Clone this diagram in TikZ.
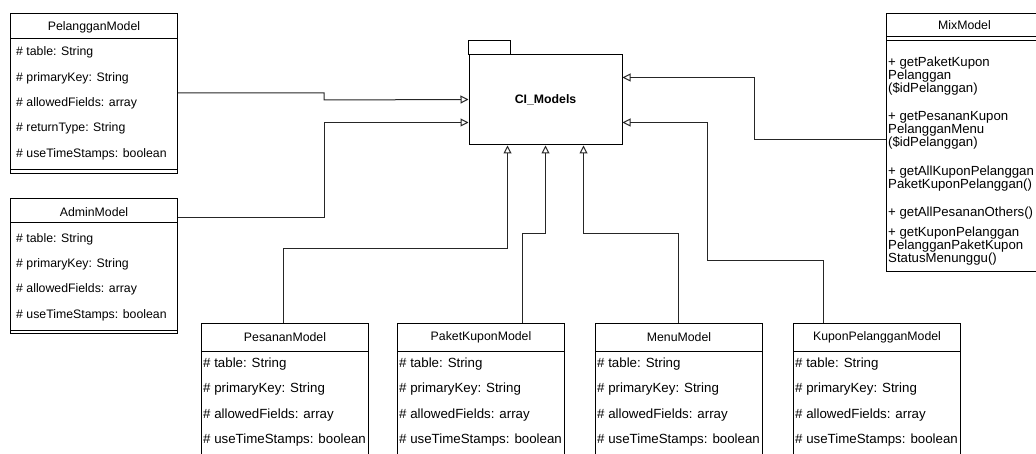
\documentclass[tikz,border=0pt]{standalone}
\usepackage{fontspec}
\setmainfont{Liberation Sans}
\usetikzlibrary{arrows.meta}

\tikzset{
	classbox/.style={draw,line width=1pt,inner sep=0pt,anchor=north west},
	title/.style={inner sep=0pt,font=\fontsize{12.3}{14}\selectfont},
	attr/.style={anchor=west,inner sep=0pt,font=\fontsize{12.3}{14}\selectfont},
	wideattr/.style={attr,font=\fontsize{13.3}{14}\selectfont},
	method/.style={anchor=west,inner sep=0pt,align=left,font=\fontsize{13.2}{13}\selectfont},
	inherit/.style={draw=black!85,line width=1pt,-{Triangle[open,length=8pt,width=8pt]}},
}

\begin{document}
\begin{tikzpicture}[x=1pt,y=-1pt]
			\useasboundingbox (0,0) rectangle (1036,454);
			
			% package
			\node[draw,line width=1pt,minimum width=153,minimum height=90,inner sep=0pt,font=\fontsize{12.3}{14}\selectfont\bfseries] (ci) at (545.5,100) {CI\_Models};
			\draw[line width=1pt] (ci.north west) rectangle ++(42,-14);
			
			% left classes
			\node[classbox,minimum width=167,minimum height=160] (pelanggan) at (10,13) {};
			\draw[line width=1pt] (pelanggan.north west) ++(0,26) -- ++(167,0);
			\draw[line width=1pt] (pelanggan.south west) ++(0,-4) -- ++(167,0);
			\node[title] (pelangganT) at ([yshift=-14pt]pelanggan.north) {PelangganModel};
			\foreach \t [count=\i from 0] in {table: String,primaryKey: String,allowedFields: array,returnType: String,useTimeStamps: boolean}{
				\node[attr] at ([xshift=6pt,yshift=-39.7pt-25.3pt*\i]pelanggan.north west) {\# \t};
			}
			
			\node[classbox,minimum width=167,minimum height=135] (admin) at (10,198) {};
			\draw[line width=1pt] (admin.north west) ++(0,25) -- ++(167,0);
			\draw[line width=1pt] (admin.south west) ++(0,-4) -- ++(167,0);
			\node[title] (adminT) at ([yshift=-14pt]admin.north) {AdminModel};
			\foreach \t [count=\i from 0] in {table: String,primaryKey: String,allowedFields: array,useTimeStamps: boolean}{
				\node[attr] at ([xshift=6pt,yshift=-41pt-25.3pt*\i]admin.north west) {\# \t};
			}
			
			% bottom classes
			\foreach \n/\x/\name in {pesanan/201/PesananModel,paket/397/PaketKuponModel,menu/595/MenuModel,kupon/793/KuponPelangganModel}{
				\node[classbox,minimum width=167,minimum height=140] (\n) at (\x,323) {};
				\draw[line width=1pt] (\n.north west) ++(0,28) -- ++(167,0);
				\draw[line width=1pt] (\n.south west) ++(0,-4) -- ++(167,0);
				\node[title] (\n T) at ([yshift=-14pt]\n.north) {\name};
				\foreach \t [count=\i from 0] in {table: String,primaryKey: String,allowedFields: array,useTimeStamps: boolean}{
					\node[wideattr] at ([xshift=2pt,yshift=-41pt-25.3pt*\i]\n.north west) {\# \t};
				}
			}
			
			% MixModel
			\node[classbox,minimum width=156,minimum height=258] (mix) at (886,13) {};
			\draw[line width=1pt] (mix.north west) ++(0,24) -- ++(156,0);
			\draw[line width=1pt] (mix.north west) ++(0,27.5) -- ++(156,0);
			\node[title] (mixT) at ([yshift=-12pt]mix.north) {MixModel};
			\node[method] (m1) at ([xshift=2pt,yshift=-63pt]mix.north west) {+ getPaketKupon\\Pelanggan\\(\$idPelanggan)};
			\node[method] (m2) at ([xshift=2pt,yshift=-117pt]mix.north west) {+ getPesananKupon\\PelangganMenu\\(\$idPelanggan)};
			\node[method] (m3) at ([xshift=2pt,yshift=-165.5pt]mix.north west) {+ getAllKuponPelanggan\\PaketKuponPelanggan()};
			\node[method] (m4) at ([xshift=2pt,yshift=-200pt]mix.north west) {+ getAllPesananOthers()};
			\node[method] (m5) at ([xshift=2pt,yshift=-233pt]mix.north west) {+ getKuponPelanggan\\PelangganPaketKupon\\StatusMenunggu()};
			
			% generalisation links
			\draw[inherit] ([yshift=-80pt]pelanggan.north east) -- ++(146,0) -- ++(0,7) -- ([yshift=-45pt]ci.north west);
			\draw[inherit] ([yshift=-20pt]admin.north east) -- ++(146,0) |- ([yshift=-68pt]ci.north west);
			\draw[inherit] ([yshift=-127pt]mix.north west) -- ++(-132,0) |- ([yshift=-23pt]ci.north east);
			\draw[inherit] ([xshift=82pt]pesanan.north west) -- ++(0,-74) -| ([xshift=-38pt]ci.south);
			\draw[inherit] ([xshift=125pt]paket.north west) -- ++(0,-89) -| (ci.south);
			\draw[inherit] ([xshift=83pt]menu.north west) -- ++(0,-89) -| ([xshift=38pt]ci.south);
			\draw[inherit] ([xshift=30pt]kupon.north west) -- ++(0,-62) -- ++(-116,0) |- ([yshift=-68pt]ci.north east);
\end{tikzpicture}
\end{document}
